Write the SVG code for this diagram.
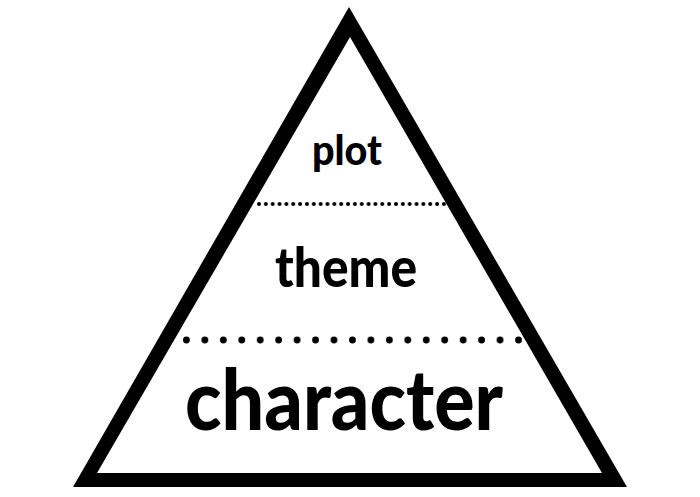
<svg xmlns="http://www.w3.org/2000/svg" width="700" height="497" viewBox="0 0 700 497">
<style>
.lbl{font-family:Lato,"Liberation Sans",sans-serif;font-weight:900;fill:#000;text-anchor:middle}
</style>
<defs>
<pattern id="d1" x="257" y="200" width="6.85" height="8" patternUnits="userSpaceOnUse"><circle cx="2" cy="4" r="2" fill="#000"/></pattern>
<pattern id="d2" x="183" y="335" width="18.45" height="10" patternUnits="userSpaceOnUse"><circle cx="3.4" cy="5" r="3.4" fill="#000"/></pattern>
</defs>
<rect width="700" height="497" fill="#fff"/>
<g id="pyramid">
<polygon points="349,7 73,487 627,487" fill="#000"/>
<polygon points="350,37 97,473 602,473" fill="#fff"/>
</g>
<g id="connectors">
<rect x="255" y="200" width="196" height="8" fill="url(#d1)"/>
<rect x="183" y="335" width="340" height="10" fill="url(#d2)"/>
</g>
<g id="plot"><text class="lbl" x="347" y="165" font-size="41" textLength="70" lengthAdjust="spacingAndGlyphs">plot</text></g>
<g id="theme"><text class="lbl" x="346" y="287" font-size="55" textLength="142" lengthAdjust="spacingAndGlyphs">theme</text></g>
<g id="character"><text class="lbl" x="344" y="430" font-size="84" textLength="318" lengthAdjust="spacingAndGlyphs">character</text></g>
</svg>
